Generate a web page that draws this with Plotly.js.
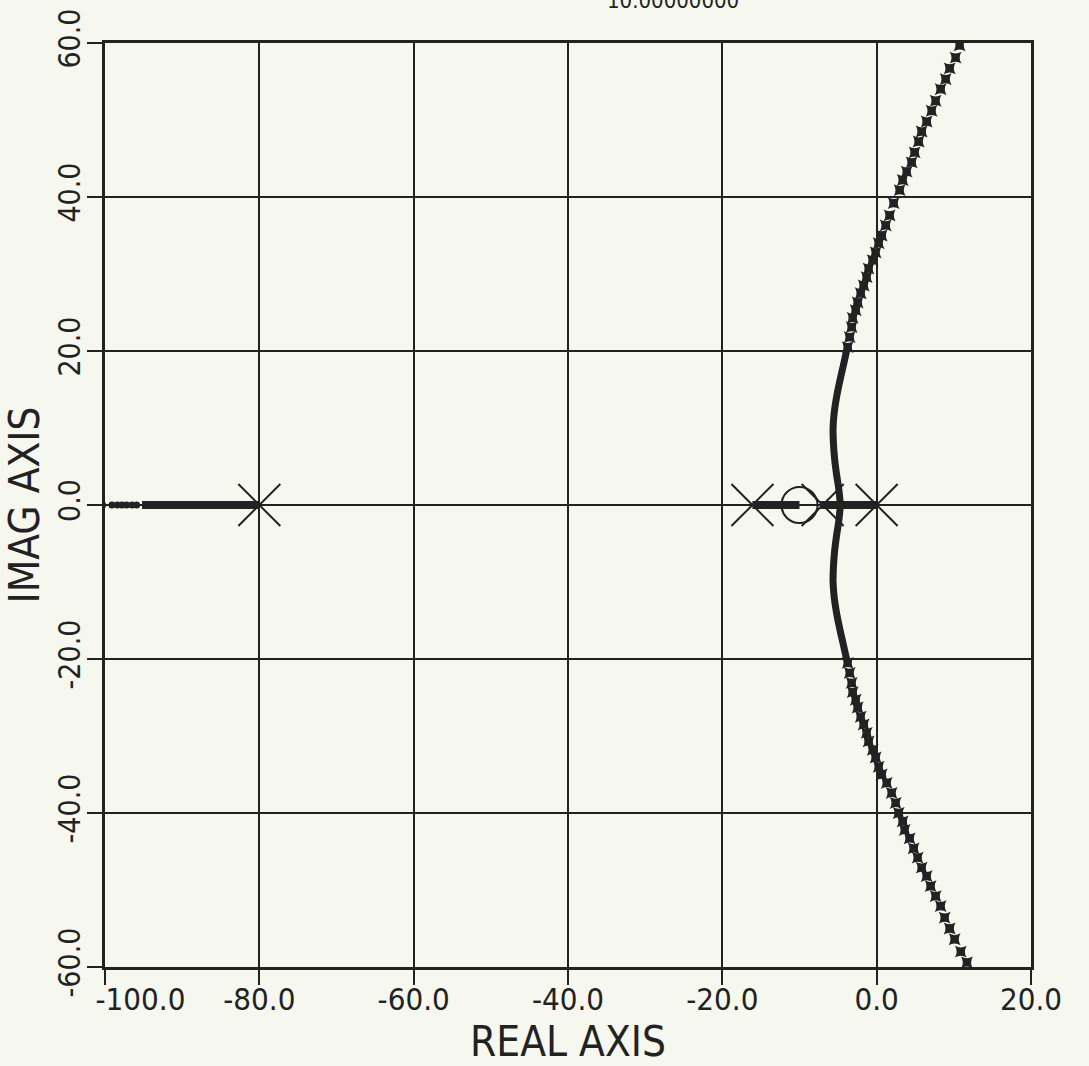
<!DOCTYPE html>
<html>
<head>
<meta charset="utf-8">
<script src="https://cdn.plot.ly/plotly-3.0.1.min.js"></script>
<style>
html,body{margin:0;padding:0;background:#f6f7ee;}
#chart{width:1089px;height:1066px;}
</style>
</head>
<body>
<div id="chart"></div>
<script>
// ---- data ----
const xTickVals = [-100, -80, -60, -40, -20, 0, 20];
const xTickText = ["\u2007\u2007\u2007\u2007-100.0", "-80.0", "-60.0", "-40.0", "-20.0", "0.0", "20.0"];
const yTickVals = [-60, -40, -20, 0, 20, 40, 60];
const yTickText = ["-60.0", "-40.0", "-20.0", "0.0", "20.0", "40.0", "60.0"];

const poleRe = [-80, -16.1, -7.0, 0];
const poleIm = [0, 0, 0, 0];
const zeroRe = [-10];
const zeroIm = [0];

// dense real-axis locus segments
const realSegRe = [-95.2, -80, null, -16.1, -10.0, null, -7.3, 0];
const realSegIm = [0, 0, null, 0, 0, null, 0, 0];
// separate dots at the far left of the real-axis branch
const leftDotsRe = [-100.3, -99.1, -98.4, -97.8, -97.2, -96.5, -95.9];
const leftDotsIm = [0, 0, 0, 0, 0, 0, 0];

// dense part of the complex branch (upper half), near the breakaway
const denseUpRe = [-4.7, -4.9, -5.2, -5.45, -5.6, -5.65, -5.5, -5.2, -4.8, -4.35, -3.9];
const denseUpIm = [0, 2, 4, 6, 8, 10, 12, 14, 16, 18, 20];
const denseLowRe = [-4.7, -4.9, -5.2, -5.45, -5.6, -5.65, -5.5, -5.2, -4.8, -4.35, -3.9];
const denseLowIm = [0, -2, -4, -6, -8, -10, -12, -14, -16, -18, -20];

// separate markers of the upper complex branch
const upRe = [-3.76, -3.50, -3.24, -3.11, -2.72, -2.46, -2.07, -1.68, -1.30, -1.04, -0.52, -0.13, 0.26, 0.65, 1.17, 1.68, 2.20, 2.98, 3.37, 3.89, 4.53, 4.92, 5.44, 5.83, 6.48, 7.12, 7.64, 8.29, 8.94, 9.46, 10.23, 10.75];
const upIm = [20.5, 21.8, 23.1, 24.3, 25.3, 26.3, 27.5, 28.5, 29.6, 30.7, 31.8, 32.8, 34.0, 35.0, 36.3, 37.6, 39.2, 40.9, 42.2, 43.3, 44.5, 45.8, 47.2, 48.5, 49.8, 51.2, 52.5, 54.0, 55.3, 56.7, 58.1, 59.7];
// separate markers of the lower complex branch
const lowRe = [-3.76, -3.50, -3.24, -3.11, -2.72, -2.46, -2.07, -1.68, -1.30, -1.04, -0.52, -0.13, 0.26, 0.65, 1.30, 1.94, 2.46, 2.85, 3.37, 3.63, 4.27, 4.79, 5.31, 5.83, 6.48, 6.99, 7.64, 8.29, 8.81, 9.46, 10.1, 10.9, 11.7];
const lowIm = [-20.5, -21.8, -23.1, -24.3, -25.3, -26.3, -27.5, -28.5, -29.6, -30.7, -31.8, -32.8, -34.0, -35.0, -36.1, -37.4, -38.7, -40.0, -41.1, -42.2, -43.3, -44.6, -45.8, -47.1, -48.2, -49.5, -50.8, -52.1, -53.6, -55.0, -56.4, -58.0, -59.4];

const headerText = "10.00000000";

// ---- styling ----
const ink = '#222222';
const bg = '#f6f7ee';
const fontFam = 'DejaVu Sans Condensed, DejaVu Sans, sans-serif';

const markerStar = {symbol: 'star-diamond', angle: 45, size: 12, color: ink, line: {width: 0}};

const traces = [
  {x: realSegRe, y: realSegIm, mode: 'lines', line: {color: ink, width: 8}, connectgaps: false, hoverinfo: 'skip'},
  {x: leftDotsRe, y: leftDotsIm, mode: 'markers', marker: {symbol: 'circle', size: 7, color: ink}},
  {x: denseUpRe, y: denseUpIm, mode: 'lines', line: {color: ink, width: 7, shape: 'spline'}},
  {x: denseLowRe, y: denseLowIm, mode: 'lines', line: {color: ink, width: 7, shape: 'spline'}},
  {x: upRe, y: upIm, mode: 'markers', marker: markerStar, cliponaxis: true},
  {x: lowRe, y: lowIm, mode: 'markers', marker: markerStar, cliponaxis: true},
  {x: poleRe, y: poleIm, mode: 'markers', marker: {symbol: 'x-thin-open', size: 42, color: ink, line: {color: ink, width: 2}}},
  {x: zeroRe, y: zeroIm, mode: 'markers', marker: {symbol: 'circle-open', size: 36, color: ink, line: {color: ink, width: 2}}}
];

const axisCommon = {
  showgrid: true, gridcolor: ink, gridwidth: 2,
  showline: true, linecolor: ink, linewidth: 3, mirror: true,
  ticks: 'outside', ticklen: 15, tickwidth: 2, tickcolor: ink,
  zeroline: false, tickmode: 'array'
};

const layout = {
  width: 1089, height: 1066,
  margin: {l: 105, r: 58, t: 43, b: 99, pad: 0},
  paper_bgcolor: bg, plot_bgcolor: bg,
  showlegend: false,
  font: {family: fontFam, color: ink},
  xaxis: Object.assign({}, axisCommon, {
    range: [-100, 20], tickvals: xTickVals, ticktext: xTickText,
    ticklabelstandoff: -12,
    tickfont: {size: 31, family: fontFam, color: ink},
    title: {text: 'REAL AXIS', font: {size: 42, family: fontFam, color: ink}, standoff: 22}
  }),
  yaxis: Object.assign({}, axisCommon, {
    range: [-60, 60], tickvals: yTickVals, ticktext: yTickText,
    tickangle: -90,
    ticklabelstandoff: -5,
    tickfont: {size: 30, family: fontFam, color: ink},
    title: {text: 'IMAG AXIS', font: {size: 42, family: fontFam, color: ink}, standoff: 4}
  }),
  annotations: [{
    text: headerText, xref: 'paper', yref: 'paper', x: 0.613, y: 1.046,
    xanchor: 'center', yanchor: 'middle', showarrow: false,
    font: {size: 22, family: fontFam, color: ink}
  }]
};

Plotly.newPlot('chart', traces, layout, {displayModeBar: false, staticPlot: true});
</script>
</body>
</html>
